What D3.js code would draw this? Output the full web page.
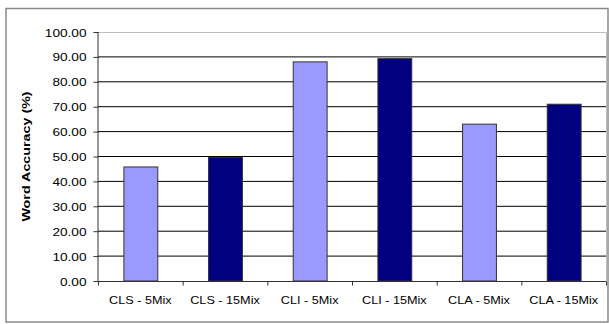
<!DOCTYPE html>
<html>
<head>
<meta charset="utf-8">
<script src="https://cdn.jsdelivr.net/npm/d3@7"></script>
<style>
  html, body { margin: 0; padding: 0; background: #fff; }
  svg { display: block; }
  text { font-family: "Liberation Sans", Arial, sans-serif; fill: #000; }
</style>
</head>
<body>
<svg id="chart" width="609" height="324"></svg>
<script>
// Word accuracy per test condition
const categories = ["CLS - 5Mix", "CLS - 15Mix", "CLI - 5Mix", "CLI - 15Mix", "CLA - 5Mix", "CLA - 15Mix"];
const accuracy = [45.8, 49.6, 88.0, 89.3, 63.0, 71.0];
const mixType = ["5Mix", "15Mix", "5Mix", "15Mix", "5Mix", "15Mix"];
const yTicks = [0, 10, 20, 30, 40, 50, 60, 70, 80, 90, 100];

const fillFor = { "5Mix": "#9999ff", "15Mix": "#000080" };
const xStretch = 1.15;     // wide glyph rendering for category labels
const yStretch = 1.24;     // for value labels
const titleStretch = 1.3;  // and for the axis title

const svg = d3.select("#chart");
const plot = { left: 98, right: 606, top: 32, bottom: 281 };

// outer chart frame
svg.append("rect")
  .attr("x", 6).attr("y", 8.5).attr("width", 602).attr("height", 313.5)
  .attr("fill", "none").attr("stroke", "#8a8a8a").attr("stroke-width", 1.5);

const x = d3.scaleBand()
  .domain(categories)
  .range([plot.left, plot.right])
  .paddingInner(0.6).paddingOuter(0.3);

const xCat = d3.scaleBand().domain(categories).range([plot.left, plot.right]);

const y = d3.scaleLinear().domain([0, 100]).range([plot.bottom, plot.top]);

// plot area border (top and right)
svg.append("path")
  .attr("d", `M${plot.left},${plot.top + 0.5}H${plot.right + 0.5}V${plot.bottom}`)
  .attr("fill", "none").attr("stroke", "#bdbdbd").attr("stroke-width", 1);

// horizontal gridlines
svg.append("g").selectAll("line")
  .data(yTicks.filter(t => t > 0 && t < 100))
  .join("line")
  .attr("x1", plot.left).attr("x2", plot.right)
  .attr("y1", d => y(d)).attr("y2", d => y(d))
  .attr("stroke", "#000").attr("stroke-width", 1);

// bars
svg.append("g").selectAll("rect")
  .data(categories)
  .join("rect")
  .attr("x", d => x(d) + 0.5)
  .attr("y", (d, i) => y(accuracy[i]))
  .attr("width", x.bandwidth())
  .attr("height", (d, i) => y(0) - y(accuracy[i]))
  .attr("fill", (d, i) => fillFor[mixType[i]])
  .attr("stroke", "#333").attr("stroke-width", 1);

// y axis
const yAxis = svg.append("g")
  .attr("transform", `translate(${plot.left + 0.5},0)`)
  .call(d3.axisLeft(y).tickValues(yTicks).tickSize(5).tickPadding(6).tickFormat(d3.format(".2f")));
yAxis.select(".domain").attr("stroke", "#333").attr("d", `M-0.5,${plot.top}V${plot.bottom}`);
yAxis.selectAll(".tick line").attr("stroke", "#333");
yAxis.selectAll(".tick text")
  .attr("font-size", 11)
  .attr("fill", "#000")
  .attr("x", null)
  .attr("dy", null)
  .attr("text-anchor", "end")
  .attr("transform", `translate(-12,4) scale(${yStretch},1)`);

// x axis
const xAxis = svg.append("g")
  .attr("transform", `translate(0,${plot.bottom + 0.5})`)
  .call(d3.axisBottom(xCat).tickSize(0).tickFormat(d => d));
xAxis.select(".domain").attr("stroke", "#333").attr("d", `M${plot.left},0H${plot.right}`);
xAxis.selectAll(".tick text")
  .attr("font-size", 11)
  .attr("fill", "#000")
  .attr("y", null).attr("dy", null)
  .attr("transform", `translate(0,22) scale(${xStretch},1)`);

// category boundary ticks
xAxis.append("g").selectAll("line")
  .data(d3.range(categories.length + 1))
  .join("line")
  .attr("x1", i => plot.left + i * xCat.step() + 0.5)
  .attr("x2", i => plot.left + i * xCat.step() + 0.5)
  .attr("y1", 0).attr("y2", 4)
  .attr("stroke", "#333");

// y axis title
svg.append("text")
  .attr("transform", `translate(30,${(plot.top + plot.bottom) / 2}) rotate(-90) scale(${titleStretch},1)`)
  .attr("text-anchor", "middle")
  .attr("font-size", 11)
  .attr("font-weight", "bold")
  .text("Word Accuracy (%)");
</script>
</body>
</html>
